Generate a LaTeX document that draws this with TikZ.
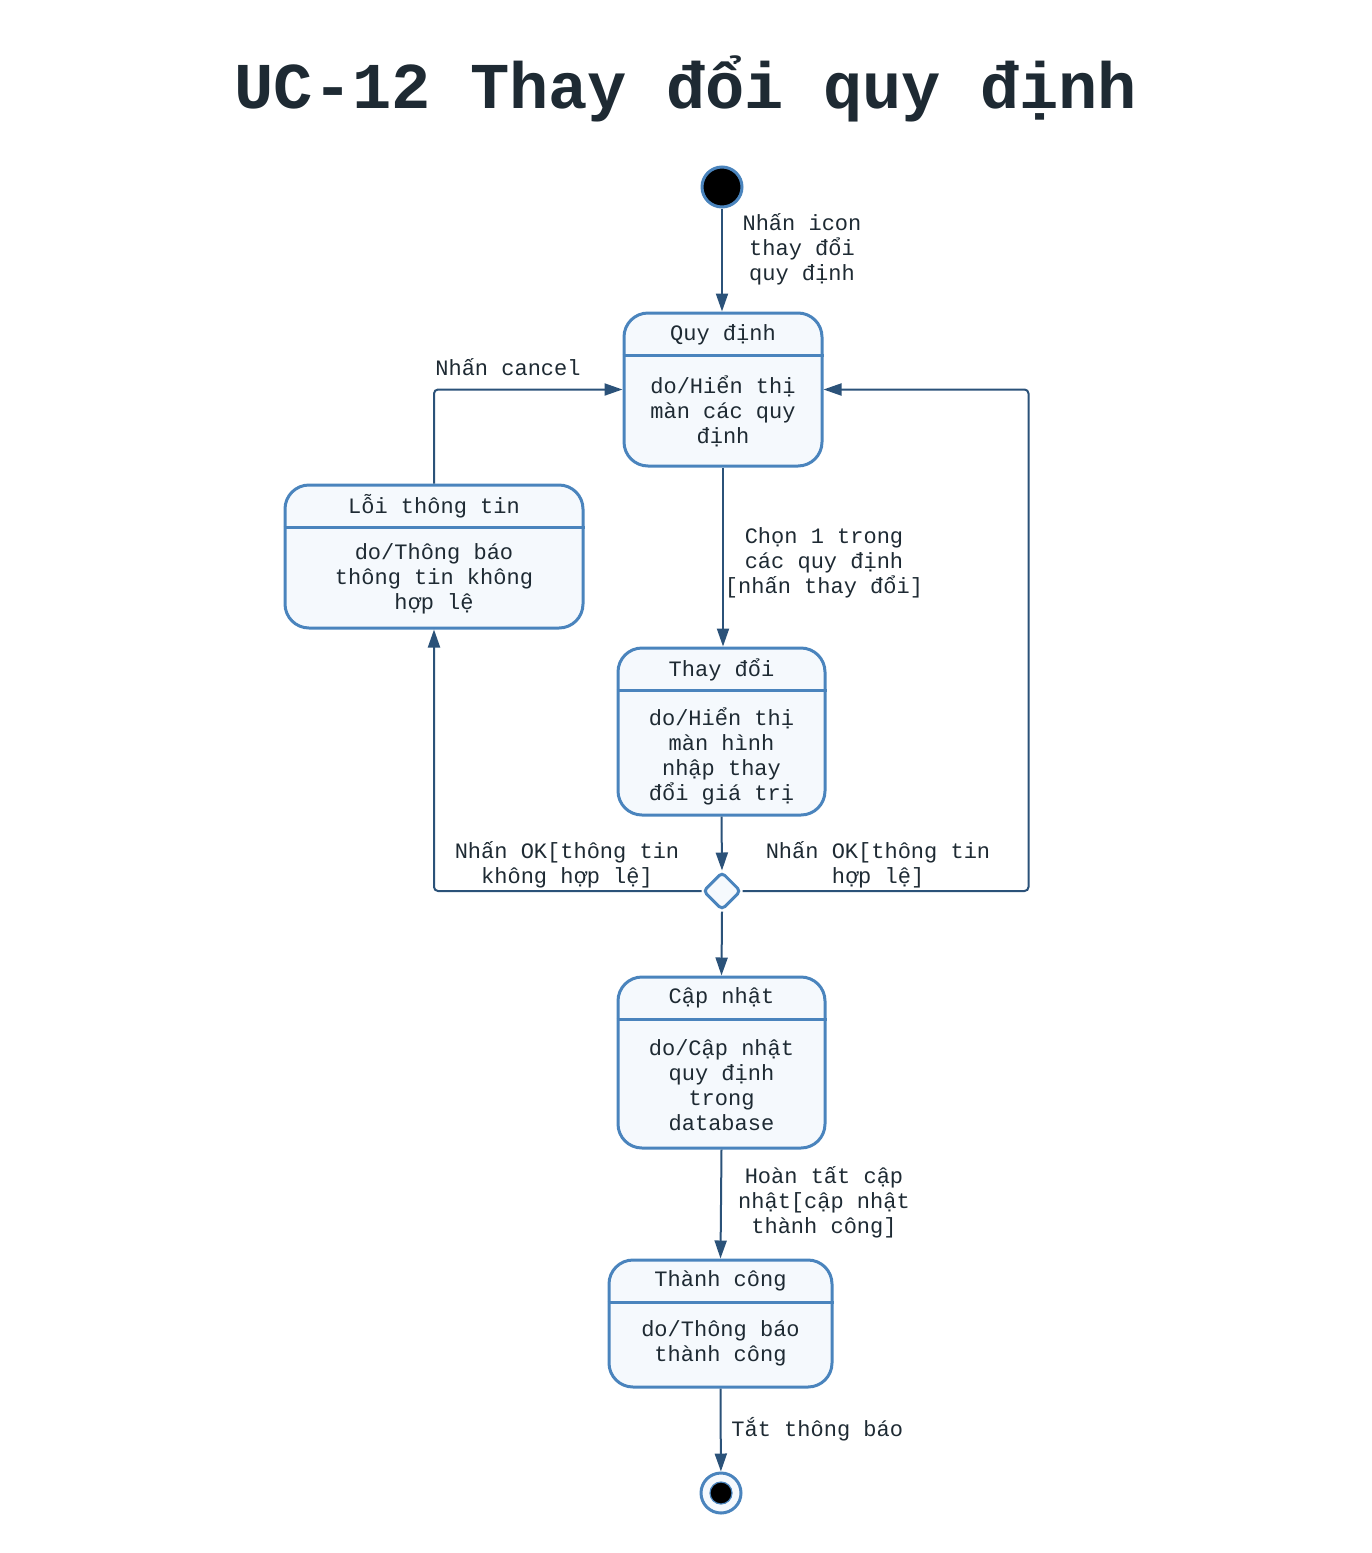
\documentclass[tikz,border=0pt]{standalone}
\usepackage{fontspec}
\usepackage{tikz}
\usetikzlibrary{arrows.meta,shapes.geometric}
\setmainfont{Liberation Mono}

\definecolor{edgeblue}{HTML}{2B5279}
\definecolor{boxblue}{HTML}{4A84BD}
\definecolor{boxfill}{HTML}{F5F9FD}
\definecolor{inkdark}{HTML}{1E2A33}

\tikzset{
  state/.style={draw=boxblue, fill=boxfill, line width=1.5pt, rounded corners=12pt, inner sep=0pt},
  txt/.style={text=inkdark, font=\fontsize{11}{12.5}\selectfont, align=center, inner sep=0pt},
  flow/.style={draw=edgeblue, line width=1pt, -{Triangle[length=9pt,width=6pt]}, rounded corners=2pt},
  divider/.style={draw=boxblue, line width=1.5pt}
}

\begin{document}
\begin{tikzpicture}[x=0.5pt, y=-0.5pt]
\useasboundingbox (0,0) rectangle (1371,1553);

\node[text=inkdark, font=\fontsize{32.7}{36}\selectfont\bfseries, anchor=base] (title) at (686,108) {UC-12 Thay đổi quy định};

% start / end
\node[circle, fill=black, draw=boxblue, line width=1.5pt, minimum size=20pt, inner sep=0pt] (start) at (722,187) {};
\node[circle, fill=boxfill, draw=boxblue, line width=1.5pt, minimum size=20pt, inner sep=0pt] (end) at (721,1493) {};
\node[circle, fill=black, draw=boxblue, line width=0.6pt, minimum size=11pt, inner sep=0pt] (enddot) at (end) {};

% states
\node[state, minimum width=99pt, minimum height=76.5pt] (quy) at (723,389.5) {};
\node[state, minimum width=149pt, minimum height=71.5pt] (loi) at (434,556.5) {};
\node[state, minimum width=103.5pt, minimum height=83.5pt] (thay) at (721.5,731.5) {};
\node[state, minimum width=103.5pt, minimum height=85.5pt] (cap) at (721.5,1062.5) {};
\node[state, minimum width=111.5pt, minimum height=63.5pt] (thanh) at (720.5,1323.5) {};
\node[diamond, draw=boxblue, fill=boxfill, line width=1.5pt, minimum width=19pt, minimum height=19pt, inner sep=0pt, rounded corners=2pt] (dec) at (722,891) {};

\foreach \s in {quy,loi,thay,cap,thanh}
  \draw[divider] ([yshift=-21.75pt]\s.north west) -- ([yshift=-21.75pt]\s.north east);

\node[txt] (quytitle) at (723,335) {Quy định};
\node[txt] (quybody) at (723,411) {do/Hiển thị\\màn các quy\\định};
\node[txt] (loititle) at (434,506) {Lỗi thông tin};
\node[txt] (loibody) at (434,579) {do/Thông báo\\thông tin không\\hợp lệ};
\node[txt] (thaytitle) at (721.5,670) {Thay đổi};
\node[txt] (thaybody) at (721.5,756) {do/Hiển thị\\màn hình\\nhập thay\\đổi giá trị};
\node[txt] (captitle) at (721.5,998) {Cập nhật};
\node[txt] (capbody) at (721.5,1085) {do/Cập nhật\\quy định\\trong\\database};
\node[txt] (thanhtitle) at (720.5,1281) {Thành công};
\node[txt] (thanhbody) at (720.5,1343.5) {do/Thông báo\\thành công};

% transitions
\draw[flow] (start) -- (start |- quy.north);
\node[txt] (lblicon) at (802,249) {Nhấn icon\\thay đổi\\quy định};

\draw[flow] (loi.north) |- (quy.west);
\node[txt] (lblcancel) at (508,367) {Nhấn cancel};

\draw[flow] (quy.south) -- (quy.south |- thay.north);
\node[txt] (lblchon) at (824,563) {Chọn 1 trong\\các quy định\\{[}nhấn thay đổi]};

\draw[flow] (thay.south) -- (dec.north);
\draw[flow] (dec.west) -| (loi.south);
\node[txt] (lblsai) at (567,865) {Nhấn OK[thông tin\\không hợp lệ]};
\draw[flow] (dec.east) -| ([xshift=102.5pt]quy.east) -- (quy.east);
\node[txt] (lbldung) at (878,865) {Nhấn OK[thông tin\\hợp lệ]};

\draw[flow] (dec.south) -- (cap.north);
\draw[flow] (cap.south) -- (thanh.north);
\node[txt] (lblxong) at (824,1202) {Hoàn tất cập\\nhật[cập nhật\\thành công]};

\draw[flow] (thanh.south) -- (end);
\node[txt, anchor=west] (lbltat) at (731,1429) {Tắt thông báo};
\end{tikzpicture}
\end{document}
